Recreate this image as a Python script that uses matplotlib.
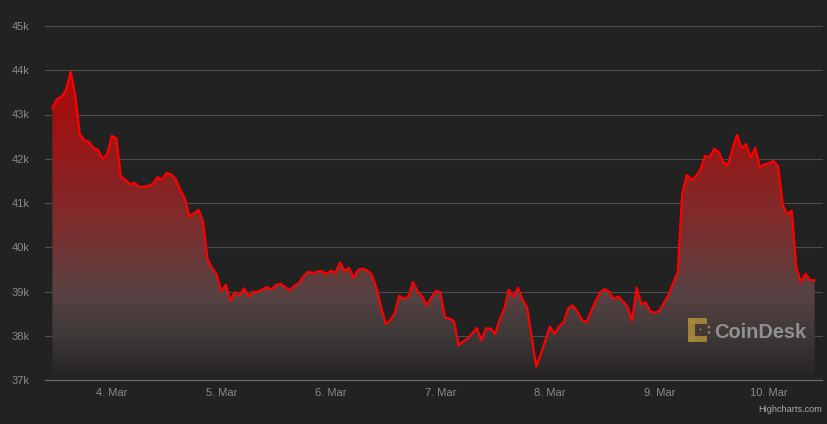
import numpy as np
import pandas as pd
import matplotlib
matplotlib.use("Agg")
import matplotlib.pyplot as plt
import matplotlib.dates as mdates
from matplotlib.colors import LinearSegmentedColormap
from matplotlib.patches import Rectangle, Circle
from matplotlib.transforms import Affine2D

plt.rcParams['font.family'] = ['Liberation Sans', 'DejaVu Sans']

# ---------------- data ----------------
start_time = "2022-03-03 11:00"
prices = [
    43150, 43350, 43400, 43555, 43970, 43440, 42555, 42420, 42380, 42240,
    42200, 42000, 42090, 42515, 42465, 41600, 41520, 41425, 41455, 41365,
    41365, 41390, 41430, 41585, 41525, 41675, 41650, 41540, 41300, 41110,
    40695, 40770, 40845, 40580, 39730, 39530, 39380, 39015, 39150, 38790,
    38980, 38910, 39070, 38890, 38995, 38995, 39040, 39100, 39040, 39150,
    39170, 39100, 39025, 39130, 39190, 39340, 39445, 39415, 39450, 39460,
    39395, 39470, 39415, 39655, 39470, 39530, 39310, 39490, 39515, 39475,
    39380, 39080, 38660, 38270, 38345, 38515, 38905, 38835, 38875, 39215,
    39000, 38890, 38685, 38850, 39015, 38985, 38415, 38390, 38325, 37780,
    37870, 37940, 38060, 38175, 37895, 38165, 38160, 38040, 38360, 38605,
    39040, 38875, 39085, 38815, 38640, 37985, 37305, 37570, 37895, 38210,
    38040, 38210, 38300, 38620, 38685, 38550, 38360, 38300, 38550, 38775,
    38980, 39055, 38990, 38830, 38890, 38775, 38660, 38340, 39090, 38715,
    38750, 38550, 38515, 38570, 38740, 38925, 39190, 39430, 41220, 41635,
    41520, 41605, 41765, 42065, 42035, 42225, 42150, 41920, 41860, 42215,
    42540, 42240, 42330, 42025, 42250, 41810, 41875, 41900, 41950, 41825,
    40960, 40750, 40825, 39545, 39215, 39400, 39260, 39250,
]
x_tick_dates = ["2022-03-04", "2022-03-05", "2022-03-06", "2022-03-07",
                "2022-03-08", "2022-03-09", "2022-03-10"]
x_tick_labels = ["4. Mar", "5. Mar", "6. Mar", "7. Mar", "8. Mar", "9. Mar", "10. Mar"]
y_ticks = [37000, 38000, 39000, 40000, 41000, 42000, 43000, 44000, 45000]
y_tick_labels = ["37k", "38k", "39k", "40k", "41k", "42k", "43k", "44k", "45k"]

# ---------------- figure ----------------
W, H = 827, 424
BG = "#222222"
fig = plt.figure(figsize=(W / 100, H / 100), dpi=100, facecolor=BG)
ax = fig.add_axes([45 / W, 1 - 380 / H, (822 - 45) / W, (380 - 26) / H])
ax.set_facecolor(BG)

times = pd.date_range(start_time, periods=len(prices), freq="h")
x = mdates.date2num(times.to_pydatetime())
y = np.array(prices, dtype=float)
ymin, ymax = 37000, 45000

# gradient area
stops = [
    (0.00, (36, 34, 34)),
    (0.14, (62, 56, 56)),
    (0.28, (88, 66, 66)),
    (0.50, (125, 45, 45)),
    (0.90, (165, 14, 14)),
    (1.00, (172, 10, 10)),
]
cmap = LinearSegmentedColormap.from_list(
    "grad", [(p, tuple(c / 255 for c in col)) for p, col in stops])
poly = ax.fill_between(x, y, ymin, color="none", lw=0)
grad = np.linspace(0, 1, 256).reshape(-1, 1)
img = ax.imshow(grad, extent=[x[0], x[-1], ymin, y.max()], aspect="auto",
                origin="lower", cmap=cmap, zorder=1, interpolation="bicubic")
img.set_clip_path(poly.get_paths()[0], transform=ax.transData)

ax.plot(x, y, color="#ff0000", lw=1.6, solid_joinstyle="round", zorder=3)

pad_h = 1.62 / 24
ax.set_xlim(x[0] - pad_h, x[-1] + pad_h)
ax.set_ylim(ymin, ymax)

ax.set_yticks(y_ticks)
ax.set_yticklabels(y_tick_labels)
ax.set_xticks(mdates.date2num(pd.to_datetime(x_tick_dates).to_pydatetime()))
ax.set_xticklabels(x_tick_labels)

ax.yaxis.grid(True, color="#4b4b4b", lw=0.8, zorder=0)
for gl in ax.yaxis.get_gridlines():
    gl.set_clip_on(False)
ax.set_axisbelow(True)
for s in ["top", "right", "left"]:
    ax.spines[s].set_visible(False)
ax.spines["bottom"].set_color("#6e6e6e")
ax.spines["bottom"].set_linewidth(0.8)
ax.spines["bottom"].set_zorder(4)

ax.tick_params(axis="y", length=0, pad=10.8, labelsize=8, labelcolor="#8a8a8a")
ax.tick_params(axis="x", length=0, pad=5.5, labelsize=8, labelcolor="#8a8a8a")

# ---------------- CoinDesk watermark ----------------
tr = Affine2D().scale(1 / W, -1 / H).translate(0, 1) + fig.transFigure
gold = "#a8883a"
for (rx, ry, rw, rh) in [(688, 317.5, 7, 24), (688, 317.5, 19, 6), (688, 335.5, 19, 6)]:
    fig.patches.append(Rectangle((rx, ry), rw, rh, transform=tr, color=gold,
                                 alpha=0.9, lw=0, zorder=5))
for (cx, cy, r) in [(709, 327, 1.4), (709, 332.5, 1.4), (700.5, 329.5, 1.0)]:
    fig.patches.append(Circle((cx, cy), r, transform=tr, color=gold,
                              alpha=0.9, lw=0, zorder=5))
fig.text(714 / W, 1 - 337.5 / H, "CoinDesk", fontsize=14.4, fontweight="bold",
         color="#9a9a9a", alpha=0.9, ha="left", va="baseline", zorder=6)

# credit
fig.text(822 / W, 1 - 412 / H, "Highcharts.com", fontsize=6.6, color="#aaaaaa",
         ha="right", va="baseline")

fig.savefig("out.png", dpi=100, facecolor=BG)
